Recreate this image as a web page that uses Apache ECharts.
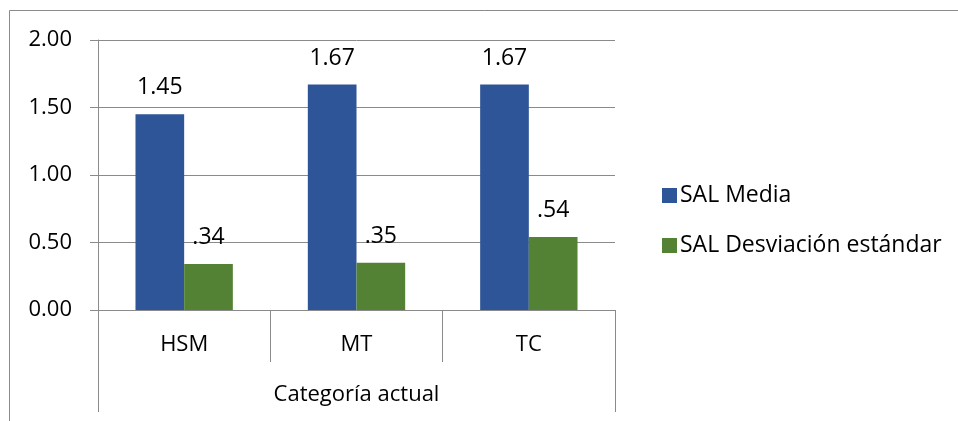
<!DOCTYPE html>
<html>
<head>
<meta charset="utf-8">
<script src="https://cdn.jsdelivr.net/npm/echarts@6/dist/echarts.min.js"></script>
<style>
  html, body { margin: 0; padding: 0; background: #fff; }
  #chart { width: 958px; height: 421px; }
</style>
</head>
<body>
<div id="chart"></div>
<script>
// Categories and values
var categories = ['HSM', 'MT', 'TC'];
var groupLabel = ['Categoría actual'];
var seriesNames = ['SAL Media', 'SAL Desviación estándar'];
var mediaValues = [1.45, 1.67, 1.67];
var desviacionValues = [0.34, 0.35, 0.54];
var yTicks = { min: 0, max: 2, interval: 0.5 };

var FONT = '"Open Sans", "Noto Sans", sans-serif';
var GRAY = '#8a8a8a';

function fmtValue(v) {
  // two decimals, leading zero dropped for values under one
  return v.toFixed(2).replace(/^0\./, '.');
}

var chart = echarts.init(document.getElementById('chart'), null, { renderer: 'canvas' });

var labelStyle = {
  show: true,
  position: 'top',
  distance: 15,
  fontFamily: FONT,
  fontSize: 23,
  color: '#000',
  formatter: function (p) { return fmtValue(p.value); }
};

chart.setOption({
  animation: false,
  backgroundColor: '#fff',
  graphic: [{
    type: 'rect',
    shape: { x: 9.5, y: 10.5, width: 1200, height: 1000 },
    style: { fill: 'none', stroke: GRAY, lineWidth: 1 },
    silent: true,
    z: -1
  }],
  grid: { left: 98, top: 40, right: 343, bottom: 111, containLabel: false },
  legend: {
    orient: 'vertical',
    left: 657,
    top: 178,
    itemWidth: 15,
    itemHeight: 15,
    itemGap: 25,
    icon: 'rect',
    textStyle: { fontFamily: FONT, fontSize: 23, color: '#000', lineHeight: 25, padding: [0, 0, 0, -2] },
    data: seriesNames
  },
  xAxis: [{
    type: 'category',
    data: categories,
    position: 'bottom',
    axisLine: { show: true, lineStyle: { color: GRAY, width: 1 } },
    axisTick: { show: true, length: 52, interval: 0, alignWithLabel: false, lineStyle: { color: GRAY } },
    axisLabel: { margin: 24, fontFamily: FONT, fontSize: 22, color: '#000' },
    splitLine: { show: false }
  }, {
    type: 'category',
    data: groupLabel,
    position: 'bottom',
    axisLine: { show: false },
    axisTick: { show: true, length: 102, interval: 0, alignWithLabel: false, lineStyle: { color: GRAY } },
    axisLabel: { margin: 74, fontFamily: FONT, fontSize: 22, color: '#000' },
    splitLine: { show: false }
  }],
  yAxis: {
    type: 'value',
    min: yTicks.min,
    max: yTicks.max,
    interval: yTicks.interval,
    axisLine: { show: true, lineStyle: { color: GRAY, width: 1 } },
    axisTick: { show: true, length: 8, inside: false, lineStyle: { color: GRAY } },
    axisLabel: {
      margin: 26,
      fontFamily: FONT,
      fontSize: 22,
      color: '#000',
      formatter: function (v) { return v.toFixed(2); }
    },
    splitLine: { show: true, lineStyle: { color: GRAY, width: 1 } }
  },
  series: [{
    name: seriesNames[0],
    type: 'bar',
    xAxisIndex: 0,
    data: mediaValues,
    barGap: '0%',
    barCategoryGap: '43.5%',
    itemStyle: { color: '#2E5597' },
    label: labelStyle
  }, {
    name: seriesNames[1],
    type: 'bar',
    xAxisIndex: 0,
    data: desviacionValues,
    barGap: '0%',
    barCategoryGap: '43.5%',
    itemStyle: { color: '#548235' },
    label: labelStyle
  }]
});
</script>
</body>
</html>
